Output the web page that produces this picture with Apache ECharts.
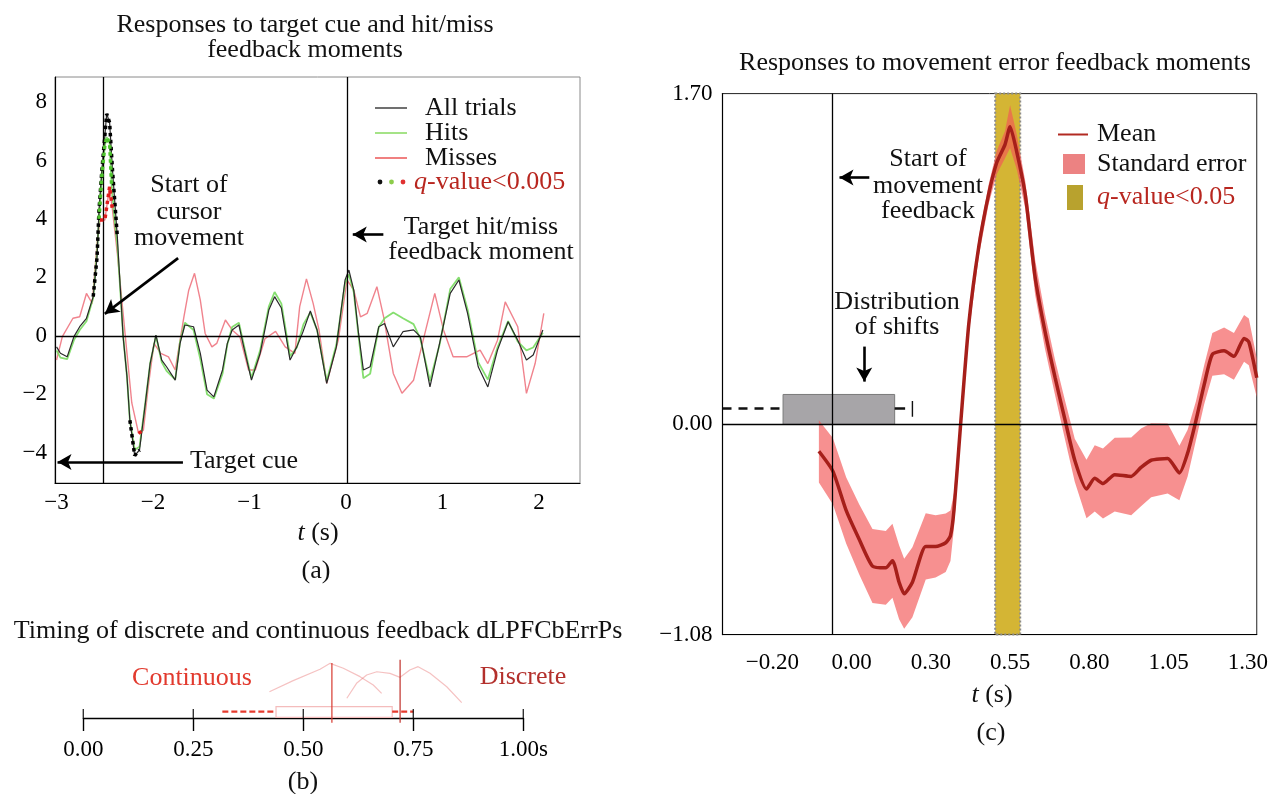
<!DOCTYPE html>
<html>
<head>
<meta charset="utf-8">
<script src="https://cdn.jsdelivr.net/npm/echarts@6.0.0/dist/echarts.min.js"></script>
<style>
html,body{margin:0;padding:0;background:#fff}
#chart{width:1271px;height:794px}
</style>
</head>
<body>
<div id="chart"></div>
<script>
var FONT = '"Liberation Serif", "DejaVu Serif", serif';

// ---- panel (a): responses to target cue and hit/miss feedback
var ticksA_x = [-3, -2, -1, 0, 1, 2];
var ticksA_y = [-4, -2, 0, 2, 4, 6, 8];
var cursorStart = -2.515;
var hitMissMoment = 0.01;
var allTrials = [[-3.0,-0.38],[-2.96,-0.6],[-2.89,-0.72],[-2.82,-0.03],[-2.76,0.31],[-2.69,0.6],[-2.62,1.34],[-2.58,2.7],[-2.56,4.3],[-2.53,5.67],[-2.50,6.82],[-2.48,7.6],[-2.45,7.3],[-2.42,5.67],[-2.37,3.39],[-2.34,1.68],[-2.31,-0.03],[-2.27,-1.4],[-2.24,-2.89],[-2.19,-4.1],[-2.14,-3.91],[-2.08,-2.32],[-2.03,-0.95],[-1.97,0.02],[-1.91,-0.83],[-1.86,-1.06],[-1.77,-1.52],[-1.72,-0.26],[-1.67,0.37],[-1.58,0.31],[-1.51,-0.6],[-1.44,-1.86],[-1.37,-2.09],[-1.28,-1.17],[-1.23,-0.26],[-1.18,0.2],[-1.11,0.37],[-1.06,-0.38],[-0.98,-1.52],[-0.89,-0.6],[-0.80,0.88],[-0.74,1.34],[-0.67,0.95],[-0.58,-0.83],[-0.51,-0.38],[-0.45,0.1],[-0.37,0.85],[-0.30,0.2],[-0.20,-1.63],[-0.10,-0.38],[-0.01,1.91],[0.03,2.25],[0.08,1.57],[0.13,0.08],[0.18,-1.17],[0.25,-1.06],[0.34,0.31],[0.40,0.42],[0.49,-0.38],[0.59,0.14],[0.70,0.2],[0.77,-0.03],[0.87,-1.75],[0.97,-0.26],[1.08,1.45],[1.17,1.91],[1.26,0.77],[1.37,-1.06],[1.47,-1.75],[1.57,-0.49],[1.68,0.48],[1.78,-0.15],[1.87,-0.83],[1.94,-0.66],[2.04,0.2]];
var hits = [[-3.0,-0.5],[-2.96,-0.75],[-2.89,-0.8],[-2.82,-0.15],[-2.76,0.2],[-2.69,0.5],[-2.62,1.3],[-2.58,2.9],[-2.56,4.0],[-2.53,5.5],[-2.50,6.5],[-2.48,6.8],[-2.45,6.6],[-2.43,5.2],[-2.40,4.0],[-2.37,3.1],[-2.34,1.6],[-2.31,0.0],[-2.27,-1.4],[-2.24,-2.9],[-2.19,-3.9],[-2.14,-3.8],[-2.08,-2.3],[-2.03,-0.95],[-1.97,0.0],[-1.91,-0.9],[-1.86,-1.2],[-1.77,-1.5],[-1.72,-0.2],[-1.67,0.45],[-1.58,0.2],[-1.51,-0.8],[-1.44,-2.0],[-1.37,-2.15],[-1.28,-1.3],[-1.23,-0.3],[-1.18,0.3],[-1.11,0.45],[-1.06,-0.3],[-0.98,-1.45],[-0.89,-0.5],[-0.80,1.0],[-0.74,1.5],[-0.67,1.1],[-0.58,-0.7],[-0.51,-0.4],[-0.44,0.4],[-0.37,0.8],[-0.30,0.2],[-0.20,-1.55],[-0.10,-0.3],[-0.01,1.8],[0.03,2.1],[0.08,1.5],[0.13,0.0],[0.18,-1.45],[0.25,-1.3],[0.34,0.3],[0.40,0.6],[0.49,0.8],[0.59,0.6],[0.70,0.4],[0.77,-0.1],[0.87,-1.55],[0.97,-0.3],[1.08,1.6],[1.17,2.0],[1.26,0.9],[1.37,-0.9],[1.47,-1.5],[1.57,-0.4],[1.68,0.5],[1.78,-0.2],[1.87,-0.5],[1.94,-0.4],[2.04,0.1]];
var misses = [[-3.0,-0.83],[-2.94,-0.03],[-2.83,0.6],[-2.76,0.65],[-2.69,1.45],[-2.63,1.11],[-2.58,3.16],[-2.55,3.96],[-2.50,3.96],[-2.45,5.1],[-2.42,4.3],[-2.37,2.82],[-2.32,1.1],[-2.27,-0.6],[-2.22,-2.3],[-2.15,-3.34],[-2.10,-3.23],[-2.05,-1.75],[-1.99,-0.26],[-1.92,-0.6],[-1.84,-0.72],[-1.77,-1.17],[-1.68,0.65],[-1.63,1.56],[-1.57,2.14],[-1.51,1.22],[-1.46,0.08],[-1.39,-0.38],[-1.34,-0.26],[-1.25,0.54],[-1.18,0.2],[-1.10,-0.03],[-1.01,-1.17],[-0.94,-1.17],[-0.84,-0.1],[-0.73,0.15],[-0.63,-0.38],[-0.53,-0.6],[-0.48,1.0],[-0.41,1.95],[-0.34,1.1],[-0.28,0.2],[-0.20,-1.63],[-0.08,-0.15],[0.01,1.91],[0.08,1.57],[0.15,0.65],[0.22,0.77],[0.32,1.68],[0.39,0.65],[0.49,-1.29],[0.58,-1.97],[0.70,-1.52],[0.80,-0.15],[0.92,1.45],[1.01,0.2],[1.11,-0.72],[1.25,-0.72],[1.39,-0.49],[1.47,-0.95],[1.57,-0.15],[1.65,1.16],[1.78,0.31],[1.87,-1.97],[1.96,-0.95],[2.05,0.77]];
// stretches with q-value < 0.005
var sigAll = [[-2.63,-2.36],[-2.26,-2.12]];
var sigHits = [[-2.57,-2.42]];
var sigMisses = [[-2.56,-2.41],[-2.16,-2.09]];

// ---- panel (b): timing of discrete and continuous feedback
var ticksB = [0, 0.25, 0.5, 0.75, 1];
var contCurve = [[0.423,0.387],[0.477,0.549],[0.538,0.716],[0.561,0.804],[0.591,0.731],[0.629,0.608],[0.659,0.485],[0.678,0.363]];
var discCurve = [[0.599,0.29],[0.621,0.51],[0.644,0.632],[0.667,0.68],[0.697,0.657],[0.72,0.598],[0.742,0.706],[0.761,0.755],[0.788,0.657],[0.826,0.46],[0.86,0.225]];
var contMedian = [0.565, 0.81];
var discMedian = [0.72, 0.855];
var boxB = [0.438, 0.702];
var whiskB = [0.316, 0.75];

// ---- panel (c): responses to movement error feedback
var tickPosC = [-0.20, 0.05, 0.30, 0.55, 0.80, 1.05, 1.30];
var tickLabC = ['\u22120.20', '0.00', '0.30', '0.55', '0.80', '1.05', '1.30'];
var ticksC_y = [-1.08, 0, 1.70];
var feedbackStart = -0.013;
var qBand = [0.503, 0.582];
var meanT = [-0.053,-0.009,0.033,0.074,0.116,0.158,0.179,0.200,0.216,0.242,0.284,0.315,0.347,0.362,0.373,0.394,0.420,0.451,0.482,0.508,0.534,0.550,0.571,0.598,0.629,0.660,0.692,0.724,0.754,0.791,0.817,0.843,0.880,0.932,0.963,0.995,1.047,1.084,1.110,1.136,1.162,1.188,1.225,1.256,1.288,1.303,1.328];
var meanV = [-0.138,-0.240,-0.442,-0.590,-0.728,-0.737,-0.700,-0.811,-0.870,-0.811,-0.627,-0.627,-0.608,-0.572,-0.442,0,0.52,0.91,1.180,1.346,1.438,1.530,1.401,1.180,0.756,0.479,0.240,0.018,-0.184,-0.332,-0.277,-0.304,-0.258,-0.267,-0.221,-0.184,-0.175,-0.249,-0.147,0.018,0.203,0.360,0.378,0.350,0.442,0.424,0.240];
var seHalf = [0.16,0.17,0.17,0.18,0.19,0.19,0.19,0.19,0.18,0.18,0.17,0.16,0.15,0.13,0.09,0.05,0.05,0.05,0.05,0.06,0.07,0.11,0.09,0.07,0.09,0.09,0.09,0.1,0.11,0.15,0.17,0.18,0.19,0.2,0.2,0.19,0.18,0.14,0.12,0.1,0.1,0.11,0.12,0.12,0.12,0.12,0.1];
var shiftBox = [-0.166, 0.186, 0.154];
var shiftWhisk = [-0.357, 0.219, 0.082];
var shiftCap = 0.242;

var chart = echarts.init(document.getElementById('chart'));

function minus(v) { return String(v).replace('-', '\u2212'); }
function pick(data, ranges) {
  return ranges.map(function (r) {
    return data.filter(function (p) { return p[0] >= r[0] - 1e-9 && p[0] <= r[1] + 1e-9; });
  });
}
function txt(x, y, text, o) {
  o = o || {};
  var size = o.size || 26, col = o.color || '#111';
  return { type: 'text', x: x, y: y, silent: true, z: 50, style: {
    text: text, fontFamily: FONT, fontSize: size, fill: col,
    align: o.align || 'center', verticalAlign: 'middle',
    rich: { i: { fontStyle: 'italic', fontFamily: FONT, fontSize: size, fill: col } }
  } };
}
function seg(xi, pts, color, width, type, z) {
  return { type: 'line', xAxisIndex: xi, yAxisIndex: xi, data: pts, showSymbol: false, silent: true,
    z: z || 3, lineStyle: { color: color, width: width, type: type || 'solid' } };
}
function arrow(a, b) {
  return [{ coord: a, symbol: 'none' }, { coord: b, symbol: 'arrow', symbolSize: [12, 14] }];
}
var labelStyle = { fontFamily: FONT, fontSize: 23, color: '#000' };

var series = [];

// (a) curves
series.push({ name: 'Misses', type: 'line', xAxisIndex: 0, yAxisIndex: 0, data: misses, showSymbol: false, z: 2,
  lineStyle: { color: 'rgba(236,100,112,0.8)', width: 1.4 } });
series.push({ name: 'Hits', type: 'line', xAxisIndex: 0, yAxisIndex: 0, data: hits, showSymbol: false, z: 3,
  lineStyle: { color: 'rgba(120,218,95,0.9)', width: 1.8 } });
series.push({ name: 'All trials', type: 'line', xAxisIndex: 0, yAxisIndex: 0, data: allTrials, showSymbol: false, z: 4,
  lineStyle: { color: '#2a2a2a', width: 1.2 },
  markLine: { silent: true, symbol: ['none', 'none'], animation: false, label: { show: false },
    lineStyle: { color: '#000', width: 1.3, type: 'solid' },
    data: [
      { yAxis: 0 }, { xAxis: cursorStart }, { xAxis: hitMissMoment },
      arrow([-1.74, 2.66], [-2.50, 0.75]),
      arrow([-1.69, -4.32], [-2.99, -4.32]),
      arrow([0.387, 3.47], [0.07, 3.47])
    ].map(function (d) { if (Array.isArray(d)) { d[0].lineStyle = { width: 2.6, color: '#000' }; } return d; })
  } });
pick(allTrials, sigAll).forEach(function (p) { series.push(seg(0, p, '#000', 3.5, 'dotted', 6)); });
pick(hits, sigHits).forEach(function (p) { series.push(seg(0, p, '#4fc42e', 3.5, 'dotted', 6)); });
pick(misses, sigMisses).forEach(function (p) { series.push(seg(0, p, '#e01e1e', 3.5, 'dotted', 7)); });

// (c) significance band, standard error band, mean
series.push({ type: 'custom', xAxisIndex: 1, yAxisIndex: 1, z: 1, silent: true, data: [[qBand[0], 0]],
  renderItem: function (params, api) {
    var p0 = api.coord([qBand[0], 1.70]), p1 = api.coord([qBand[1], -1.08]);
    return { type: 'rect', shape: { x: p0[0], y: p0[1], width: p1[0] - p0[0], height: p1[1] - p0[1] },
      style: { fill: '#d4b534', stroke: '#8c8c8c', lineWidth: 2, lineDash: [2, 2] } };
  } });
series.push({ type: 'custom', xAxisIndex: 1, yAxisIndex: 1, z: 2, silent: true, data: [[meanT[0], meanV[0]]],
  renderItem: function (params, api) {
    var pts = [], i;
    for (i = 0; i < meanT.length; i++) pts.push(api.coord([meanT[i], meanV[i] + seHalf[i]]));
    for (i = meanT.length - 1; i >= 0; i--) pts.push(api.coord([meanT[i], meanV[i] - seHalf[i]]));
    return { type: 'polygon', shape: { points: pts }, style: { fill: 'rgba(243,86,86,0.66)' } };
  } });
series.push({ name: 'Mean', type: 'line', xAxisIndex: 1, yAxisIndex: 1, z: 3, showSymbol: false, smooth: 0.2,
  data: meanT.map(function (t, i) { return [t, meanV[i]]; }),
  lineStyle: { color: '#a61f1a', width: 3.5 },
  markLine: { silent: true, symbol: ['none', 'none'], animation: false, label: { show: false },
    lineStyle: { color: '#000', width: 1.3, type: 'solid' },
    data: [
      { yAxis: 0 }, { xAxis: feedbackStart },
      arrow([0.106, 1.269], [0.012, 1.269]),
      arrow([0.090, 0.40], [0.090, 0.22])
    ].map(function (d) { if (Array.isArray(d)) { d[0].lineStyle = { width: 2.6, color: '#000' }; } return d; })
  } });
var whiskL = seg(1, [[shiftWhisk[0], shiftWhisk[2]], [shiftBox[0], shiftWhisk[2]]], '#111', 2.5, [9, 7], 3);
whiskL.markArea = { silent: true, itemStyle: { color: '#a7a5a8', borderColor: '#7a7a7a', borderWidth: 1 },
  data: [[{ coord: [shiftBox[0], 0] }, { coord: [shiftBox[1], shiftBox[2]] }]] };
series.push(whiskL);
series.push(seg(1, [[shiftBox[1], shiftWhisk[2]], [shiftWhisk[1], shiftWhisk[2]]], '#111', 2.5, 'solid', 3));
series.push(seg(1, [[shiftCap, 0.039], [shiftCap, 0.12]], '#111', 1.4, 'solid', 3));

// (b) timing
series.push(seg(2, contCurve, 'rgba(232,120,120,0.45)', 1.2, 'solid', 2));
series.push(seg(2, discCurve, 'rgba(232,120,120,0.45)', 1.2, 'solid', 2));
series.push(seg(2, [[contMedian[0], -0.07], [contMedian[0], contMedian[1]]], '#d83a30', 1.2, 'solid', 4));
series.push(seg(2, [[discMedian[0], -0.07], [discMedian[0], discMedian[1]]], '#c0302a', 1.2, 'solid', 4));
var wB = seg(2, [[whiskB[0], 0.093], [boxB[0], 0.093]], '#e53b2e', 2.2, [6, 3], 3);
wB.markArea = { silent: true, itemStyle: { color: 'rgba(0,0,0,0)', borderColor: '#f4bcbc', borderWidth: 1.2 },
  data: [[{ coord: [boxB[0], 0.01] }, { coord: [boxB[1], 0.166] }]] };
series.push(wB);
series.push(seg(2, [[boxB[1], 0.093], [whiskB[1], 0.093]], '#e53b2e', 2.2, [6, 3], 3));
series.push({ type: 'scatter', xAxisIndex: 2, yAxisIndex: 2, silent: true, z: 5,
  data: ticksB.map(function (v) { return [v, 0]; }),
  symbol: 'rect', symbolSize: [1.4, 9], symbolOffset: [0, -4.5], itemStyle: { color: '#000' } });

var graphics = [
  // titles
  txt(305, 25, 'Responses to target cue and hit/miss', { size: 26 }),
  txt(305, 50, 'feedback moments', { size: 26 }),
  txt(995, 63, 'Responses to movement error feedback moments', { size: 26 }),
  txt(318, 631, 'Timing of discrete and continuous feedback dLPFCbErrPs', { size: 26 }),
  // axis names and panel letters
  txt(318, 533, '{i|t} (s)'), txt(316, 571, '(a)'),
  txt(992, 695, '{i|t} (s)'), txt(991, 733, '(c)'),
  txt(303, 782, '(b)'),
  // (a) annotations
  txt(189, 185, 'Start of'), txt(189, 212, 'cursor'), txt(189, 238, 'movement'),
  txt(190, 461, 'Target cue', { align: 'left' }),
  txt(481, 227, 'Target hit/miss'), txt(481, 252, 'feedback moment'),
  // (a) legend
  { type: 'line', shape: { x1: 375, y1: 108, x2: 407, y2: 108 }, style: { stroke: '#222', lineWidth: 1.3 } },
  { type: 'line', shape: { x1: 375, y1: 133, x2: 407, y2: 133 }, style: { stroke: '#8fdc6a', lineWidth: 1.6 } },
  { type: 'line', shape: { x1: 375, y1: 158, x2: 407, y2: 158 }, style: { stroke: '#ea4a4a', lineWidth: 1.4 } },
  { type: 'circle', shape: { cx: 380, cy: 182, r: 2.4 }, style: { fill: '#111' } },
  { type: 'circle', shape: { cx: 391.5, cy: 182, r: 2.4 }, style: { fill: '#8ccc4a' } },
  { type: 'circle', shape: { cx: 403, cy: 182, r: 2.4 }, style: { fill: '#e03030' } },
  txt(425, 108, 'All trials', { align: 'left' }),
  txt(425, 133, 'Hits', { align: 'left' }),
  txt(425, 158, 'Misses', { align: 'left' }),
  txt(414, 182, '{i|q}-value<0.005', { align: 'left', color: '#b8261f' }),
  // (c) annotations
  txt(928, 159, 'Start of'), txt(928, 186, 'movement'), txt(928, 211, 'feedback'),
  txt(897, 302, 'Distribution'), txt(897, 327, 'of shifts'),
  // (c) legend
  { type: 'line', shape: { x1: 1058, y1: 134.5, x2: 1088, y2: 134.5 }, style: { stroke: '#b22a22', lineWidth: 2 } },
  { type: 'rect', shape: { x: 1063, y: 154, width: 22, height: 20 }, style: { fill: '#ec8282' } },
  { type: 'rect', shape: { x: 1067, y: 185, width: 16, height: 25 }, style: { fill: '#b8a22e' } },
  txt(1097, 134.5, 'Mean', { align: 'left' }),
  txt(1097, 164, 'Standard error', { align: 'left' }),
  txt(1097, 197, '{i|q}-value<0.05', { align: 'left', color: '#b8261f' }),
  // (b) labels
  txt(192, 678, 'Continuous', { color: '#e23a2e' }),
  txt(523, 677, 'Discrete', { color: '#b3302c' })
];

var option = {
  animation: false,
  backgroundColor: '#fff',
  textStyle: { fontFamily: FONT },
  grid: [
    { left: 55, top: 77, width: 525, height: 406, show: true, borderColor: '#8a8a8a', borderWidth: 1 },
    { left: 722.5, top: 93.6, width: 537, height: 541, show: true, borderColor: '#222', borderWidth: 1 },
    { left: 83.3, top: 650, width: 440, height: 81.6 }
  ],
  xAxis: [
    { gridIndex: 0, type: 'value', min: -3.016, max: 2.425, splitLine: { show: false }, axisTick: { show: false },
      axisLine: { onZero: false, lineStyle: { color: '#000', width: 1.2 } },
      axisLabel: Object.assign({ customValues: ticksA_x, formatter: minus, margin: 8 }, labelStyle) },
    { gridIndex: 1, type: 'value', min: -0.357, max: 1.328, splitLine: { show: false }, axisTick: { show: false },
      axisLine: { onZero: false, lineStyle: { color: '#000', width: 1.2 } },
      axisLabel: Object.assign({ customValues: tickPosC, margin: 17, formatter: function (v) {
        var best = 0;
        tickPosC.forEach(function (p, i) { if (Math.abs(p - v) < Math.abs(tickPosC[best] - v)) best = i; });
        return tickLabC[best];
      } }, labelStyle) },
    { gridIndex: 2, type: 'value', min: 0, max: 1, splitLine: { show: false },
      axisLine: { onZero: true, lineStyle: { color: '#000', width: 1.3 } },
      axisTick: { customValues: ticksB, length: 13, lineStyle: { color: '#000', width: 1.4 } },
      axisLabel: Object.assign({ customValues: ticksB, margin: 7, formatter: function (v) {
        return v.toFixed(2) + (v === 1 ? 's' : '');
      } }, labelStyle) }
  ],
  yAxis: [
    { gridIndex: 0, type: 'value', min: -5.04, max: 8.86, splitLine: { show: false }, axisTick: { show: false },
      axisLine: { show: true, onZero: false, lineStyle: { color: '#000', width: 1.2 } },
      axisLabel: Object.assign({ customValues: ticksA_y, formatter: minus, margin: 8 }, labelStyle) },
    { gridIndex: 1, type: 'value', min: -1.08, max: 1.70, splitLine: { show: false }, axisTick: { show: false },
      axisLine: { show: true, onZero: false, lineStyle: { color: '#000', width: 1.2 } },
      axisLabel: Object.assign({ customValues: ticksC_y, margin: 10, formatter: function (v) {
        return minus(v.toFixed(2));
      } }, labelStyle) },
    { gridIndex: 2, type: 'value', min: -0.2, max: 1, show: false, splitLine: { show: false } }
  ],
  series: series,
  graphic: graphics
};

option && chart.setOption(option);
</script>
</body>
</html>
